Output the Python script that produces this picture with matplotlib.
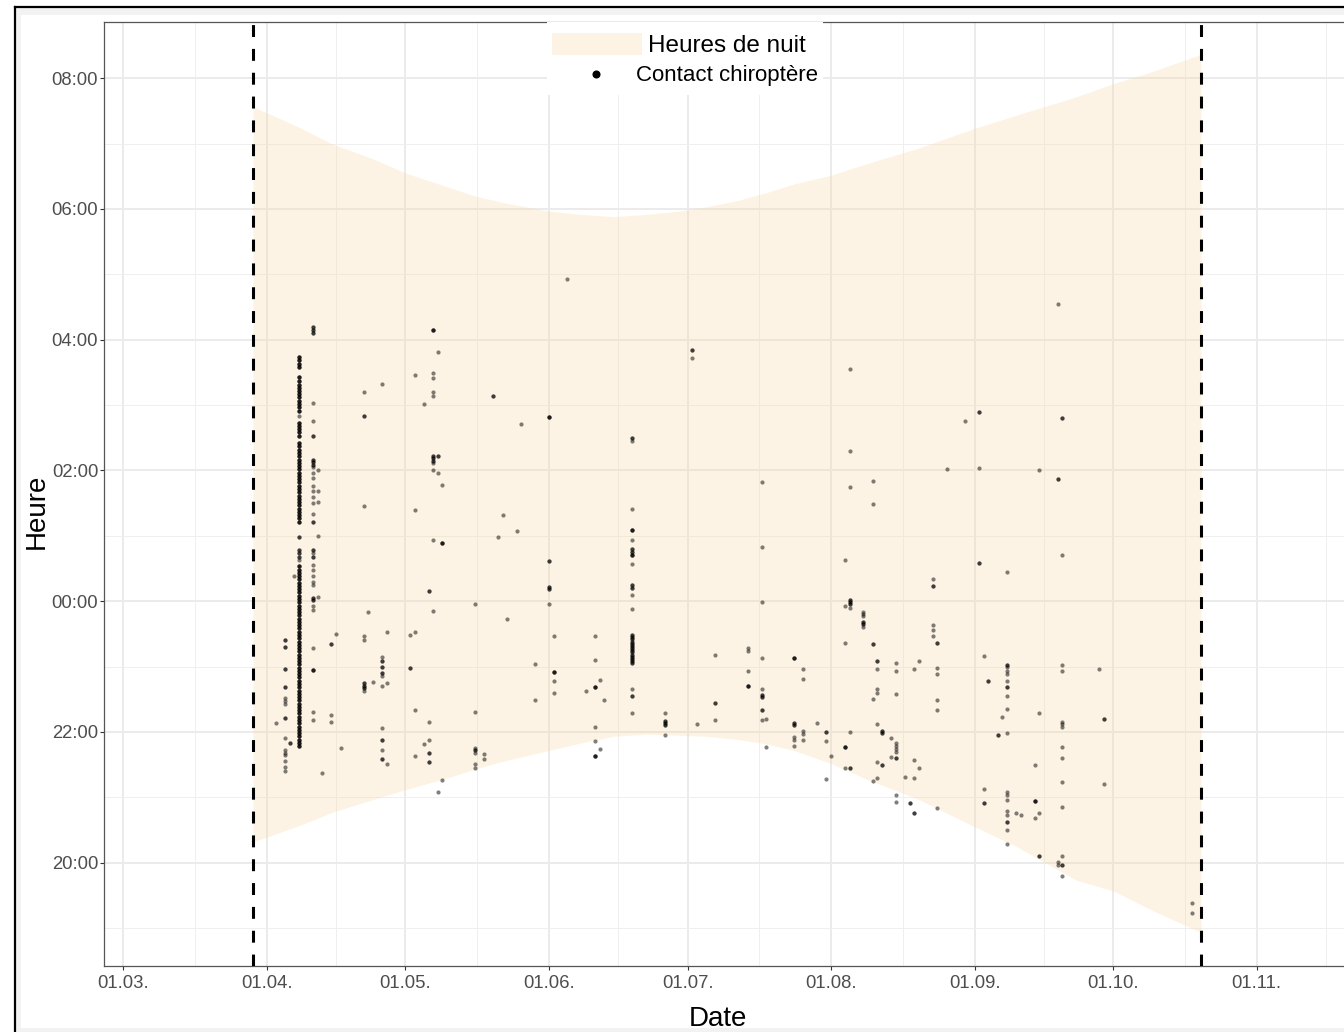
import numpy as np
import pandas as pd
import matplotlib
matplotlib.use('Agg')
import matplotlib.pyplot as plt
import matplotlib.dates as mdates
from matplotlib.patches import Patch, Rectangle
from matplotlib.lines import Line2D
from matplotlib.ticker import FixedLocator

plt.rcParams['font.family'] = ['Liberation Sans', 'DejaVu Sans']

YEAR = 2021

# night hours (sunset / sunrise)
night_dates = ['03-29', '04-08', '04-15', '04-24', '05-01', '05-11', '05-16', '05-22',
               '06-01', '06-08', '06-15', '06-22', '06-29', '07-05', '07-12', '07-18',
               '07-24', '08-01', '08-09', '08-20', '09-01', '09-10', '09-23', '10-01',
               '10-10', '10-20']
sunset = ['20:19', '20:34', '20:46', '20:58', '21:07', '21:19', '21:26', '21:33',
          '21:43', '21:50', '21:56', '21:58', '21:57', '21:56', '21:53', '21:49',
          '21:43', '21:31', '21:16', '20:58', '20:33', '20:15', '19:44', '19:34',
          '19:15', '18:56']
sunrise = ['07:34', '07:15', '07:00', '06:46', '06:33', '06:19', '06:12', '06:06',
           '05:58', '05:55', '05:53', '05:55', '05:58', '06:02', '06:08', '06:15',
           '06:23', '06:31', '06:42', '06:56', '07:14', '07:26', '07:43', '07:55',
           '08:07', '08:22']

# start / end of the monitoring period
period = ['03-29', '10-20']

# bat contacts: (day, times) per month, "HH:MM*n" = n contacts at that time
column_0408 = ('03:44*3 03:41*3 03:38*3 03:35*3 03:26*3 03:22*3 03:18*3 03:16*3 03:13*3 '
               '03:10*3 03:07*3 03:04*3 03:01*3 02:58*3 02:55*3 02:50 02:44*3 02:41*3 '
               '02:38*3 02:35*3 02:32*3 02:25*3 02:22*3 02:19*3 02:16*3 02:13*3 02:10*3 '
               '02:07*3 02:04*3 02:01*3 01:58*3 01:55*3 01:52*3 01:49*3 01:46*3 01:43*3 '
               '01:40*3 01:37*3 01:34*3 01:31*3 01:28*3 01:25*3 01:22*3 01:19*3 01:16*3 '
               '01:13*3 00:59*2 00:47*2 00:44*2 00:41*2 00:38 00:32*3 00:29*3 00:26*3 '
               '00:23*3 00:20*3 00:17*3 00:14*3 00:11*3 00:08*3 00:05*3 00:02*3 23:59*3 '
               '23:56*3 23:53*3 23:50*3 23:47*3 23:44*3 23:41*3 23:38*3 23:35*3 23:32*3 '
               '23:29*3 23:26*3 23:23*3 23:20*3 23:17*3 23:14*3 23:11*3 23:08*3 23:05*3 '
               '23:02*3 22:59*3 22:56*3 22:53*3 22:50*3 22:47*3 22:44*3 22:41*3 22:38*3 '
               '22:35*3 22:32*3 22:29*3 22:26*3 22:23*3 22:20*3 22:17*3 22:14*3 22:11*3 '
               '22:08*3 22:05*3 22:02*3 21:59*3 21:56*3 21:53*3 21:50*3 21:47*3')

april = [
    ('03', '22:08'),
    ('05', '23:24*2 23:18*2 22:58*2 22:41*2 22:31 22:28 22:26 22:13*2 21:54 21:43 21:41 '
           '21:39 21:33 21:28 21:24'),
    ('06', '21:50*2'),
    ('07', '00:23'),
    ('08', column_0408),
    ('11', '04:12*2 04:09*2 04:06*2 03:02 02:45 02:32*2 02:10*2 02:08*2 02:05*2 02:03 '
           '01:58 01:53 01:46 01:41 01:36 01:30 01:20 01:13*2 00:47*2 00:44 00:41*2 '
           '00:33 00:29 00:23 00:18 00:15 00:03*2 00:01*2 23:56 23:52 23:17 22:57*3 '
           '22:18 22:11'),
    ('12', '02:00 01:41 01:31 01:00 00:04'),
    ('13', '21:22'),
    ('15', '23:21*2 22:16 22:09'),
    ('16', '23:30'),
    ('17', '21:45'),
    ('22', '03:12 02:50*2 01:27 23:28 23:24 22:45*2 22:42*2 22:40*2 22:38'),
    ('23', '23:50'),
    ('24', '22:46'),
    ('26', '03:19 23:09 23:05*2 23:00*2 22:54*2 22:51 22:42 22:04 21:53*2 21:43 21:35*2'),
    ('27', '23:32 22:45 21:31'),
]

may = [
    ('02', '23:29 22:59*2'),
    ('03', '03:28 01:24 23:32 22:20 21:38'),
    ('05', '03:01 21:49'),
    ('06', '00:09*2 22:09 21:53 21:41*2 21:32*2'),
    ('07', '04:09*3 03:29 03:25 03:12 03:08 02:13*2 02:11*2 02:09*2 02:07 02:00 00:56 23:51'),
    ('08', '03:49 02:13*2 01:58 21:05'),
    ('09', '01:47 00:53*3 21:16'),
    ('16', '23:57 22:18 21:45 21:43*2 21:41 21:31 21:27'),
    ('18', '21:40 21:35'),
    ('20', '03:08*2'),
    ('21', '00:59'),
    ('22', '01:19'),
    ('23', '23:44'),
    ('25', '01:04'),
    ('26', '02:43'),
    ('29', '23:02 22:29'),
]

june = [
    ('01', '02:49*3 00:37*2 00:13*2 00:11*2 23:57'),
    ('02', '23:28 22:55*3 22:47 22:36'),
    ('05', '04:56'),
    ('09', '22:38'),
    ('11', '23:28 23:06 22:41*3 22:05 21:52 21:38*3'),
    ('12', '22:48 21:44'),
    ('13', '22:29'),
    ('19', '02:30*2 02:27 01:25 01:05*3 00:56 00:48*2 00:45*2 00:42*3 00:34 00:15*2 '
           '00:12*2 00:06 23:53 23:29*2 23:27*2 23:25*2 23:23*2 23:21*2 23:19*2 23:17*2 '
           '23:15*2 23:13*2 23:11*2 23:09*2 23:07*2 23:05*2 23:03*2 22:39 22:33*2 22:17'),
    ('26', '22:17 22:10*2 22:08*2 22:06*2 21:57'),
]

july = [
    ('02', '03:51*2 03:43'),
    ('03', '22:07'),
    ('07', '23:11 22:27*2 22:11'),
    ('14', '23:17 23:14 22:56 22:42*3'),
    ('17', '01:49 00:50 23:59 23:08 22:39 22:34*2 22:32*2 22:20*2 22:11'),
    ('18', '22:12 21:46'),
    ('24', '23:08*3 22:08*2 22:06*2 21:55 21:53 21:47'),
    ('26', '22:58 22:49 22:01 21:58 21:53'),
    ('29', '22:08'),
    ('31', '22:00*2 21:52 21:17'),
]

august = [
    ('01', '21:38'),
    ('04', '00:38 23:56 23:22 21:46*3 21:27'),
    ('05', '03:33 02:18 01:45 00:01*2 23:59*2 23:57*2 23:54 22:00 21:27*2'),
    ('08', '23:50 23:48 23:46 23:41*2 23:39*2 23:36'),
    ('10', '01:50 01:29 23:21*2 22:30 21:15'),
    ('11', '23:05*2 22:58 22:39 22:36 22:07 21:32 21:18'),
    ('12', '22:01*2 21:59*2 21:30*2'),
    ('14', '21:54 21:37'),
    ('15', '23:03 22:56 22:35 21:50 21:47 21:44 21:42 21:36*2 21:02 20:56'),
    ('17', '21:19'),
    ('18', '20:55*2'),
    ('19', '22:58 21:34 21:18 20:46*2'),
    ('20', '23:05 21:27'),
    ('23', '00:20 00:14*2 23:38 23:34 23:28'),
    ('24', '23:22*2 22:59 22:53 22:29 22:20 20:50'),
    ('26', '02:01'),
    ('30', '02:45'),
]

september = [
    ('02', '02:54*2 02:02 00:35*2'),
    ('03', '23:10 21:08 20:55*2'),
    ('04', '22:47*2'),
    ('06', '21:57*2'),
    ('07', '22:14'),
    ('08', '00:27 23:01*2 23:00 22:56 22:53 22:47 22:41*2 22:33 22:21 21:59 21:05 21:02 '
           '20:58 20:47 20:44 20:37*2 20:30 20:17'),
    ('10', '20:46'),
    ('11', '20:44'),
    ('14', '21:30 20:57*3 20:41'),
    ('15', '02:00 22:17 20:46 20:06*2'),
    ('19', '04:33 01:52*2 20:01 19:58'),
    ('20', '02:48*2 00:42 23:01 22:56 22:09 22:07 22:05 21:46 21:36 21:14 20:51 20:06 '
           '19:58*2 19:48'),
    ('28', '22:58'),
    ('29', '22:12*2 21:12'),
]

october = [
    ('18', '19:23 19:14'),
]

months = [('04', april), ('05', may), ('06', june), ('07', july),
          ('08', august), ('09', september), ('10', october)]


def to_num(md):
    return mdates.date2num(pd.Timestamp(f'{YEAR}-{md}'))


def to_hours(hm):
    # hours after noon, so that a night is continuous
    h, m = hm.split(':')
    return (int(h) + int(m) / 60 - 12) % 24


x_contact, y_contact = [], []
for month, nights in months:
    for day, times in nights:
        for tok in times.split():
            t, _, n = tok.partition('*')
            for _ in range(int(n or 1)):
                x_contact.append(to_num(f'{month}-{day}'))
                y_contact.append(to_hours(t))

x_night = [to_num(d) for d in night_dates]
y_set = [to_hours(t) for t in sunset]
y_rise = [to_hours(t) for t in sunrise]

night_color = '#fbd9a6'
night_alpha = 0.3

W, H = 1344, 1032
fig = plt.figure(figsize=(W / 100, H / 100), dpi=100)

# screenshot frame
fig.add_artist(Rectangle((15 / W, 0), 1, (H - 7) / H, transform=fig.transFigure,
                         facecolor='#f2f2f2', edgecolor='none', zorder=-10))
fig.add_artist(Rectangle((21 / W, 4 / H), 1, (H - 19) / H, transform=fig.transFigure,
                         facecolor='white', edgecolor='none', zorder=-9))
fig.add_artist(Line2D([15 / W, 15 / W], [0, (H - 7) / H], transform=fig.transFigure,
                      color='black', lw=1.6, zorder=-8))
fig.add_artist(Line2D([15 / W, 1], [(H - 7) / H, (H - 7) / H], transform=fig.transFigure,
                      color='black', lw=1.6, zorder=-8))

ax = fig.add_axes([104 / W, (H - 966) / H, (1360 - 104) / W, 944 / H])
ax.set_axisbelow(True)

ax.fill_between(x_night, y_set, y_rise, color=night_color, alpha=night_alpha,
                linewidth=0, zorder=1)
ax.scatter(x_contact, y_contact, s=9, c='black', alpha=0.5, linewidths=0, zorder=3)
for d in period:
    ax.axvline(to_num(d), color='black', lw=2.2, linestyle=(0, (3.9, 3.9)), zorder=4)

mar1 = to_num('03-01')
ax.set_xlim(mar1 - 4.17, mar1 + 267.33)
ax.set_ylim(6.42, 20.86)

month_starts = mdates.date2num(pd.date_range(f'{YEAR}-02-01', f'{YEAR}-12-01', freq='MS'))
ax.xaxis.set_major_locator(mdates.MonthLocator())
ax.xaxis.set_major_formatter(mdates.DateFormatter('%d.%m.'))
ax.xaxis.set_minor_locator(FixedLocator((month_starts[:-1] + month_starts[1:]) / 2))

hour_ticks = [8, 10, 12, 14, 16, 18, 20]
ax.set_yticks(hour_ticks)
ax.set_yticklabels([f'{(h + 12) % 24:02d}:00' for h in hour_ticks])
ax.yaxis.set_minor_locator(FixedLocator([7, 9, 11, 13, 15, 17, 19]))

ax.grid(which='major', color='#ebebeb', linewidth=1.4)
ax.grid(which='minor', color='#efefef', linewidth=0.7)
for sp in ax.spines.values():
    sp.set_color('#555555')
    sp.set_linewidth(0.9)
ax.tick_params(which='major', length=3.2, width=0.8, color='#333333',
               labelcolor='#4d4d4d', labelsize=13.3)
ax.tick_params(axis='y', pad=1)
ax.tick_params(axis='x', pad=3)
ax.tick_params(which='minor', length=0)

fig.text(718 / W, 1 - 1026 / H, 'Date', fontsize=20, ha='center', va='baseline')
fig.text(37 / W, 1 - 511 / H, 'Heure', fontsize=20, rotation=90, ha='center', va='center')

# legend: white box with two stacked keys
fig.add_artist(Rectangle((547 / W, 1 - 95 / H), 276 / W, 73 / H, transform=fig.transFigure,
                         facecolor='white', edgecolor='none', zorder=1))
fig.legend([Patch(facecolor=night_color, alpha=night_alpha, edgecolor='none')],
           ['Heures de nuit'], loc='center left',
           bbox_to_anchor=(551.7 / W, 1 - 44.8 / H), bbox_transform=fig.transFigure,
           fontsize=17.5, handlelength=90 / 24.3, handleheight=25 / 24.3,
           handletextpad=0.26, borderpad=0, borderaxespad=0, frameon=False)
fig.legend([Line2D([], [], marker='o', color='black', linestyle='none', markersize=4.8)],
           ['Contact chiroptère'], loc='center left',
           bbox_to_anchor=(559.4 / W, 1 - 76 / H), bbox_transform=fig.transFigure,
           fontsize=16, handlelength=72.6 / 22.2, handletextpad=0.18,
           borderpad=0, borderaxespad=0, frameon=False)

fig.savefig('out.png', dpi=100)
